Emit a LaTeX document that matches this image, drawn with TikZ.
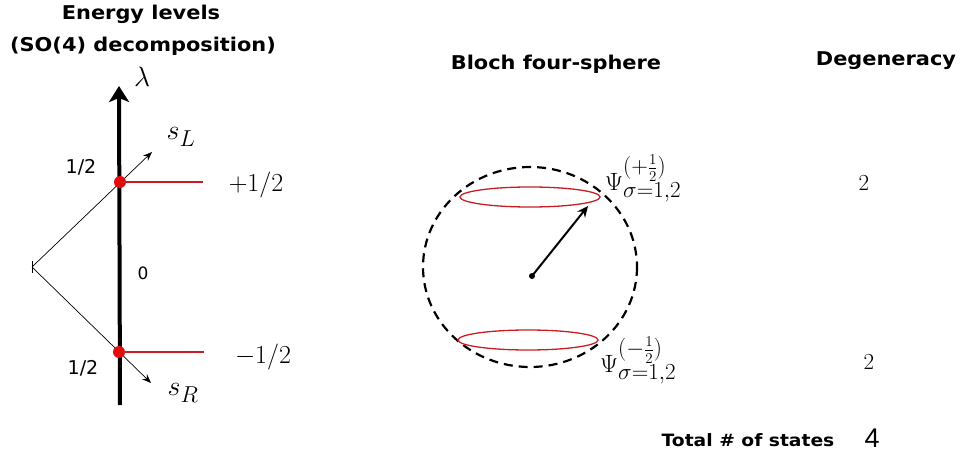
\RequirePackage{fix-cm}
\documentclass[tikz,border=0pt]{standalone}
\usepackage{fontspec}
\newfontfamily\hdr{DejaVu Sans}[FakeStretch=1.1]
\newfontfamily\lbl{DejaVu Sans}
\newfontfamily\numf{Liberation Sans}
\usetikzlibrary{arrows.meta}
\DeclareMathSizes{25}{25}{23}{15}
\DeclareMathSizes{28}{28}{23}{16}
\definecolor{lvlred}{RGB}{200,30,35}
\definecolor{dotred}{RGB}{230,10,10}
\begin{document}
\begin{tikzpicture}[x=1pt,y=-1pt,
  title/.style={font=\hdr\bfseries\fontsize{19}{22}\selectfont, inner sep=0pt},
  mathlbl/.style={font=\fontsize{26}{30}\selectfont, inner sep=0pt},
  psilbl/.style={font=\fontsize{25}{29}\selectfont, inner sep=0pt, anchor=base west},
  sanslbl/.style={font=\lbl\fontsize{19}{22}\selectfont, inner sep=0pt},
  reddot/.style={circle, fill=dotred, minimum size=12pt, inner sep=0pt},
  redlvl/.style={draw=lvlred, line width=1.3pt},
  thinarrow/.style={line width=0.7pt, -{Stealth[length=9pt,width=7pt]}},
  numlbl/.style={font=\fontsize{23}{27}\selectfont, inner sep=0pt}]
\useasboundingbox (0,0) rectangle (963,457);

% titles
\node[title] (t1) at (141,14) {Energy levels};
\node[title] (t2) at (143,46) {(SO(4) decomposition)};
\node[title] (t3) at (556,64) {Bloch four-sphere};
\node[title] (t4) at (886,61) {Degeneracy};

% energy axis
\coordinate (axb) at (120,405);
\coordinate (axt) at (119,86);
\draw[line width=4pt, -{Stealth[length=16pt,width=20pt,inset=4pt]}] (axb) -- (axt);
\node[mathlbl, font=\fontsize{28}{32}\selectfont] (lam) at (142,77) {$\lambda$};

% diagonals
\coordinate (v) at (32,267);
\coordinate (ul) at (152,152);
\coordinate (lr) at (151,383);
\coordinate (tk1) at (32,261);
\coordinate (tk2) at (32,273);
\draw[line width=0.7pt] (tk1) -- (tk2);
\draw[thinarrow] (v) -- (ul);
\draw[thinarrow] (v) -- (lr);

% levels
\node[reddot] (p1) at (120,182) {};
\node[reddot] (p2) at (119,352) {};
\coordinate (e1) at (203,182);
\coordinate (e2) at (204,352);
\draw[redlvl] (p1.center) -- (e1);
\draw[redlvl] (p2.center) -- (e2);

\node[mathlbl] (pl) at (256,185) {$+1/2$};
\node[mathlbl] (mi) at (263,357) {$-1/2$};
\node[sanslbl] (h1) at (81,167) {1/2};
\node[sanslbl] (h2) at (83,368) {1/2};
\node[sanslbl, font=\lbl\fontsize{17}{20}\selectfont] (zero) at (143,273) {0};
\node[mathlbl, font=\fontsize{28}{32}\selectfont] (sl) at (181,137) {$s_L$};
\node[mathlbl, font=\fontsize{28}{32}\selectfont] (sr) at (183,393) {$s_R$};

% Bloch sphere
\coordinate (sc) at (530,267);
\draw[line width=2.2pt, dash pattern=on 9pt off 6pt] (sc) ellipse [x radius=107, y radius=100];
\coordinate (uc) at (530,197);
\coordinate (lc) at (528,340);
\draw[redlvl] (uc) ellipse [x radius=70, y radius=10];
\draw[redlvl] (lc) ellipse [x radius=70, y radius=10];
\node[circle, fill=black, minimum size=6pt, inner sep=0pt] (cd) at (532,276) {};
\coordinate (at) at (588,206);
\draw[line width=2pt, -{Stealth[length=11pt,width=10pt]}] (cd.center) -- (at);
\node[psilbl] (psiu) at (605,190) {$\Psi^{(+\frac{1}{2})}_{\sigma=1,2}$};
\node[psilbl] (psil) at (600,372) {$\Psi^{(-\frac{1}{2})}_{\sigma=1,2}$};

% degeneracy
\node[numlbl] (d1) at (864,183) {2};
\node[numlbl] (d2) at (869,362) {2};
\node[font=\hdr\bfseries\fontsize{17}{20}\selectfont, inner sep=0pt] (tot) at (748,440) {Total \# of states};
\node[font=\numf\fontsize{27}{30}\selectfont, inner sep=0pt] (four) at (872,438) {4};
\end{tikzpicture}
\end{document}
